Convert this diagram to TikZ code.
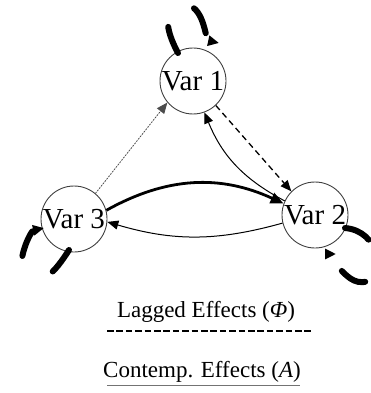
\documentclass[tikz,border=0pt]{standalone}
\usepackage{fontspec}
\setmainfont{Liberation Serif}
\usetikzlibrary{arrows.meta,calc}
\begin{document}
\begin{tikzpicture}[x=1pt,y=-1pt,
  var/.style={circle, draw=black!75, line width=0.9pt, minimum size=66pt, inner sep=0pt, fill=white, font=\fontsize{29}{29}\selectfont},
  tip/.style={-{Triangle[length=11pt,width=9pt]}},
  lagloop/.style={line width=6pt, line cap=round, dash pattern=on 27pt off 44pt, -{Triangle[length=11pt,width=10pt]}},
  dotedge/.style={tip, line width=0.8pt, dash pattern=on 1.5pt off 1.5pt, draw=black!70, fill=black!70},
  dashedge/.style={tip, line width=1.3pt, dash pattern=on 6pt off 4pt},
  thinedge/.style={tip, line width=1pt},
  thickedge/.style={-{Triangle[length=13pt,width=11pt]}, line width=2.8pt},
  legend/.style={font=\fontsize{23}{23}\selectfont, anchor=base},
  legdash/.style={line width=2.8pt, dash pattern=on 6.5pt off 2.9pt},
  legsolid/.style={line width=1pt, draw=black!55}
]
\useasboundingbox (0,0) rectangle (371,393);
\node[var] (v1) at (193,81) {Var 1};
\node[var] (v2) at (315,215) {Var 2};
\node[var] (v3) at (74,219) {Var 3};
% lagged self effects
\draw[lagloop, dash pattern=on 28pt off 44pt] ($(v1)+(-15,-28)$) .. controls +(-20,-37) and +(-18,-5) .. ($(v1)+(-5,-76)$) .. controls +(17,5) and +(-14,-3) .. ($(v1)+(26,-38)$);
\draw[lagloop, dash pattern=on 27pt off 50pt] ($(v3)+(-5,31)$) .. controls +(-14,22) and +(16,18) .. ($(v3)+(-50,53)$) .. controls +(-8,-9) and +(-14,3) .. ($(v3)+(-30,9)$);
\draw[lagloop, dash pattern=on 27pt off 50pt] ($(v2)+(30,13)$) .. controls +(35,3) and +(17,-6) .. ($(v2)+(53,66)$) .. controls +(-14,5) and +(8,8) .. ($(v2)+(22,51)$) .. controls +(-6,-6) and +(-8,0) .. ($(v2)+(21,39)$);
% cross effects
\draw[dotedge] (v3.50) -- (v1.220);
\draw[dashedge] (v1.-47) -- (v2.135);
\draw[thinedge] (v2.155) to[bend left=20] (v1.-70);
\draw[thickedge] (v3.15) to[bend left=27] (v2.160);
\draw[thinedge] (v2.-166) to[bend left=16] (v3.-5);
% legend
\node[legend] (lag) at (206,317) {Lagged Effects (\textit{Φ})};
\coordinate (d1) at (107,331);
\coordinate (d2) at (313,331);
\draw[legdash] (d1) -- (d2);
\node[legend] (con) at (202,377) {Contemp. Effects (\textit{A})};
\coordinate (s1) at (107,385);
\coordinate (s2) at (300,385);
\draw[legsolid] (s1) -- (s2);
\end{tikzpicture}
\end{document}
